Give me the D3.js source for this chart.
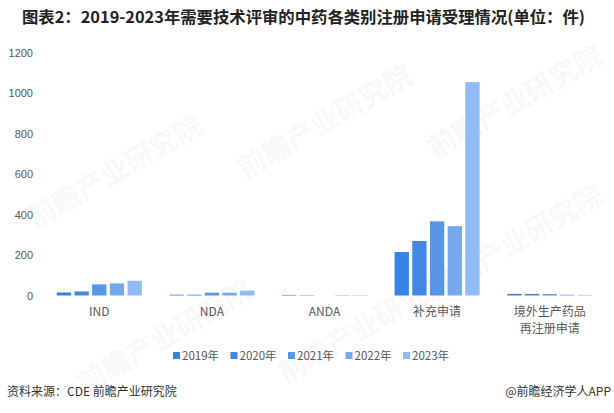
<!DOCTYPE html>
<html>
<head>
<meta charset="utf-8">
<script src="https://cdn.jsdelivr.net/npm/d3@7"></script>
<style>
body { margin: 0; background: #fff; }
svg { display: block; font-family: "Microsoft YaHei", "Noto Sans CJK SC", sans-serif; }
</style>
</head>
<body>
<div class="svg-div"></div>
<script>
// data
const categories = ["IND", "NDA", "ANDA", "补充申请", "境外生产药品\n再注册申请"]
const years = ["2019年", "2020年", "2021年", "2022年", "2023年"]
const values = [
    [15, 4, 3, 215, 8],      // 2019
    [20, 4, 2, 270, 8],      // 2020
    [55, 14, 0, 367, 7],     // 2021
    [60, 14, 2, 343, 4],     // 2022
    [73, 24, 2, 1056, 3]     // 2023
]
const yTicks = [0, 200, 400, 600, 800, 1000, 1200]
const colors = ["#3583e6", "#4287e3", "#5896e6", "#76a8ec", "#91bbf3"]

const width = 614, height = 413
const svg = d3.select(".svg-div").append("svg")
    .attr("width", width).attr("height", height)

svg.append("text")
    .attr("x", 22).attr("y", 23)
    .attr("font-size", 16).attr("font-weight", "bold").attr("fill", "#222")
    .attr("textLength", 563).attr("lengthAdjust", "spacingAndGlyphs")
    .text("图表2：2019-2023年需要技术评审的中药各类别注册申请受理情况(单位：件)")

// watermarks
const wm = [[120, 180], [330, 130], [520, 110], [170, 345], [370, 335], [520, 250]]
wm.forEach(p => {
    svg.append("text")
        .attr("transform", "translate(" + p[0] + "," + p[1] + ") rotate(-30)")
        .attr("text-anchor", "middle")
        .attr("font-size", 28).attr("font-weight", "bold")
        .attr("fill", "#000").attr("opacity", 0.022)
        .text("前瞻产业研究院")
})

const x0 = d3.scaleBand().domain(categories).range([43, 606])
const x1 = d3.scaleBand().domain(years).range([0, x0.bandwidth()]).paddingInner(0.19).paddingOuter(0.78)
const y = d3.scaleLinear().domain([0, 1200]).range([295.5, 53])

const yAxis = d3.axisLeft(y).tickValues(yTicks).tickSize(0).tickPadding(0).tickFormat(d3.format("d"))
const gy = svg.append("g").attr("transform", "translate(33,0)").call(yAxis)
gy.select(".domain").remove()
gy.selectAll("text").attr("font-size", 11).attr("fill", "#595959")
    .attr("font-family", "Arial, 'Liberation Sans', sans-serif")

const groups = svg.append("g").selectAll("g")
    .data(categories)
    .join("g")
    .attr("transform", d => "translate(" + x0(d) + ",0)")

groups.selectAll("rect")
    .data((d, ci) => years.map((yr, yi) => ({ yr: yr, v: values[yi][ci], yi: yi })))
    .join("rect")
    .attr("x", d => x1(d.yr))
    .attr("width", x1.bandwidth())
    .attr("y", d => y(d.v))
    .attr("height", d => y(0) - y(d.v))
    .attr("fill", d => colors[d.yi])

// category labels
const xl = svg.append("g")
categories.forEach(c => {
    const lines = c.split("\n")
    lines.forEach((ln, i) => {
        xl.append("text")
            .attr("x", x0(c) + x0.bandwidth() / 2)
            .attr("y", 316 + i * 17)
            .attr("text-anchor", "middle")
            .attr("font-size", 12).attr("fill", "#595959")
            .text(ln)
    })
})

// legend
const legend = svg.append("g").selectAll("g")
    .data(years)
    .join("g")
    .attr("transform", (d, i) => "translate(" + (173 + i * 57.5) + ",352)")
legend.append("rect").attr("width", 7).attr("height", 7).attr("fill", (d, i) => colors[i])
legend.append("text").attr("x", 9).attr("y", 7.5)
    .attr("font-size", 11.5).attr("fill", "#595959").text(d => d)

// footer
svg.append("text").attr("x", 7).attr("y", 396)
    .attr("font-size", 12).attr("fill", "#333").text("资料来源：CDE 前瞻产业研究院")
svg.append("text").attr("x", 611).attr("y", 396).attr("text-anchor", "end")
    .attr("font-size", 12).attr("fill", "#333").text("@前瞻经济学人APP")
</script>
</body>
</html>
